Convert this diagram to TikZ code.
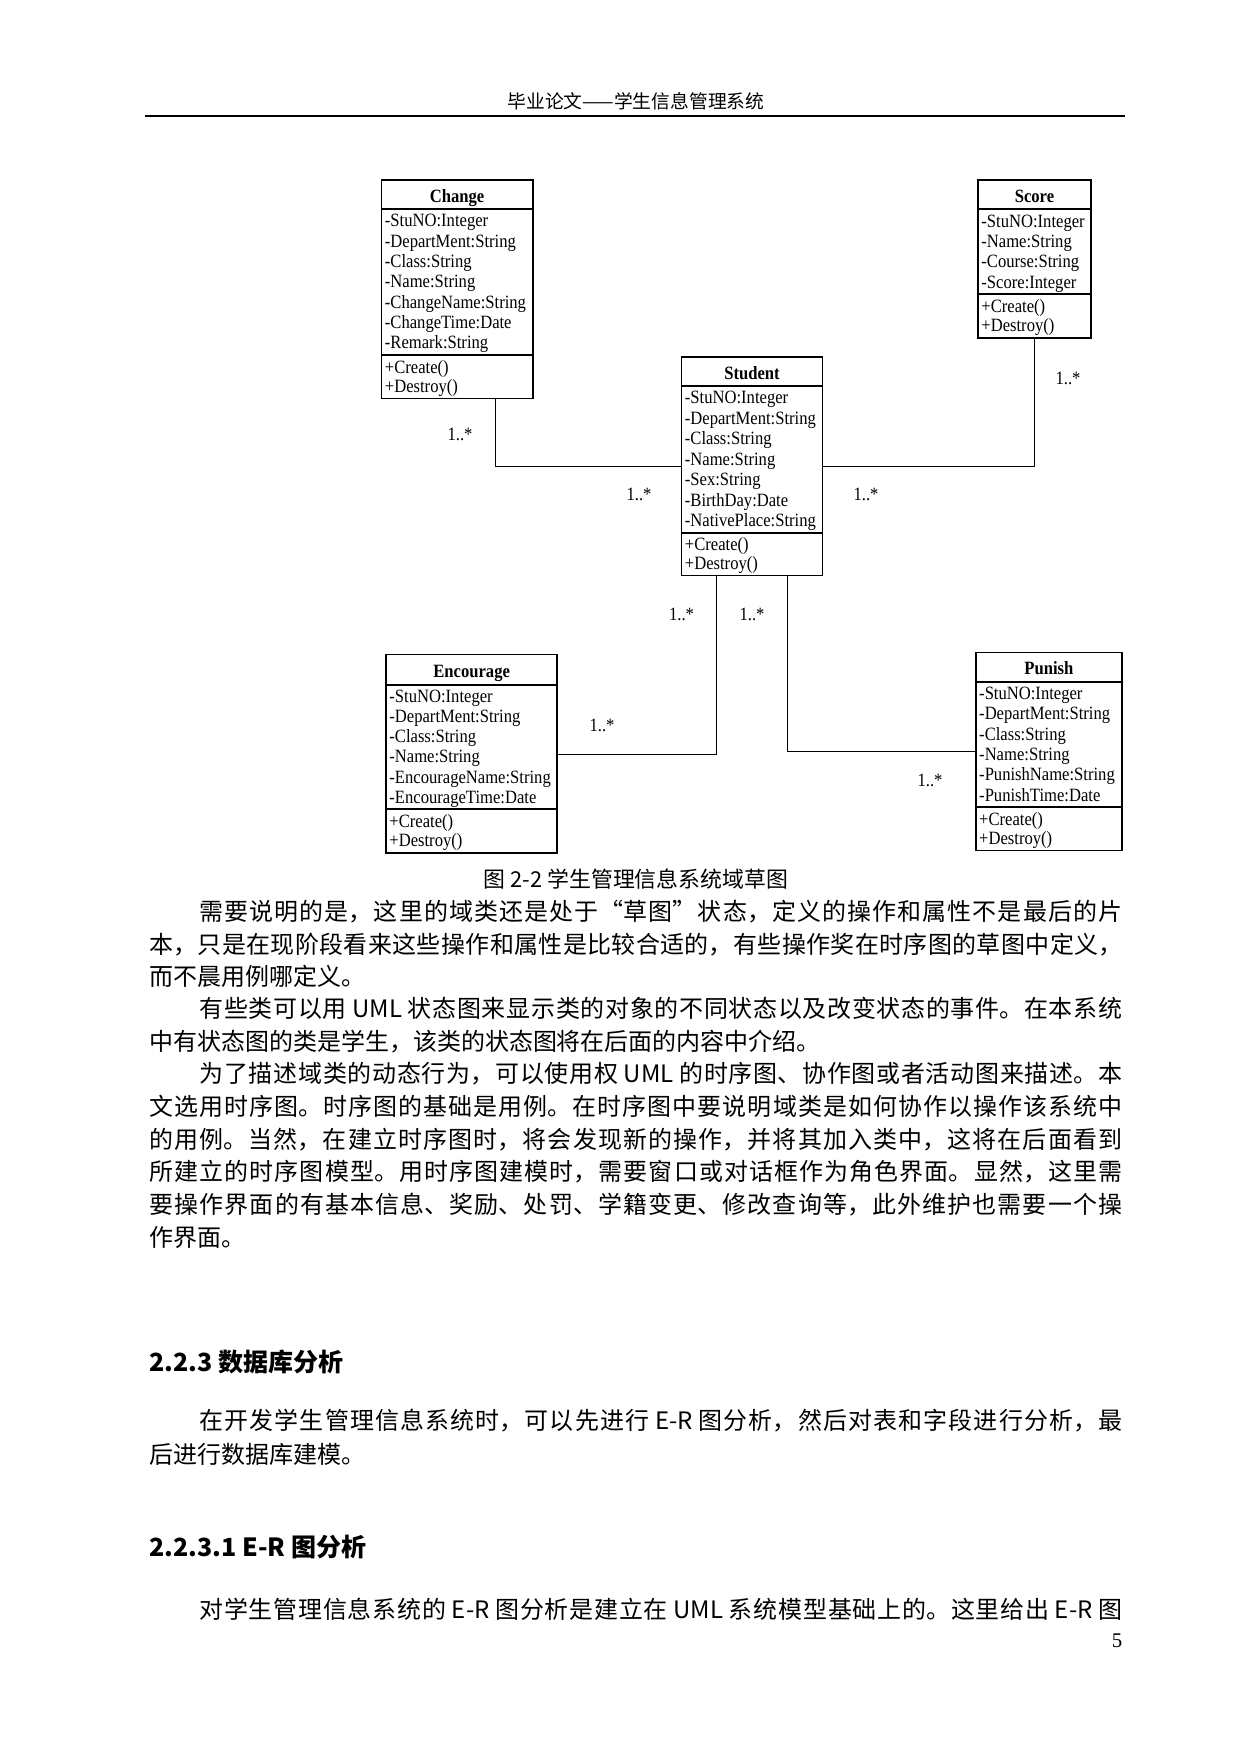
\documentclass[tikz,border=0pt]{standalone}
\usepackage{fontspec}
\usetikzlibrary{fit}
\setmainfont{Liberation Serif}
\newfontfamily\cjk{Noto Sans CJK SC}
\newfontfamily\umlf{Liberation Serif}[FakeStretch=0.885]
\XeTeXlinebreaklocale "zh"
\XeTeXlinebreakskip=0pt plus 3pt
\tolerance=10000
\hbadness=10000
\hfuzz=50pt

\newcommand\jtext[2]{\parbox[b]{#1}{\parfillskip=0pt\relax\parindent=0pt #2}}

\tikzset{
  body/.style={anchor=base west, inner sep=0, font=\cjk\fontsize{11.5}{14}\selectfont},
  headg/.style={anchor=base west, inner sep=0, font=\cjk\bfseries\fontsize{12}{14}\selectfont},
  classbox/.style={draw, line width=0.8pt, inner sep=0},
  divline/.style={line width=0.8pt},
  attr/.style={anchor=base west, inner sep=0, font=\umlf\fontsize{9}{10}\selectfont},
  ttl/.style={anchor=base, inner sep=0, font=\umlf\bfseries\fontsize{9}{10}\selectfont},
  mult/.style={anchor=base, inner sep=0, font=\umlf\fontsize{9}{10}\selectfont},
  conn/.style={line width=0.7pt},
}

% rows: prefix, x, ytop, ybottom, count, list
\newcommand\umlrows[6]{%
  \foreach \t [count=\i] in {#6} {
    \node[attr] (#1\i) at ({#2}, {#3 + ((#4)-(#3))/(#5)*(0.84 + (\i-1)*((#5)-1.12)/((#5)-1))}) {\t};
  }}

% class: name, x1, y1, x2, y2, yh, ys, title
\newcommand\umlclass[8]{%
  \node[classbox, fit={(#2,#3) (#4,#5)}] (#1) {};
  \draw[divline] (#2,#6) -- (#4,#6);
  \draw[divline] (#2,#7) -- (#4,#7);
  \node[ttl] (#1-title) at ({(#2+#4)/2}, {(#3+#6)/2+7.5}) {#8};
}

\begin{document}
\begin{tikzpicture}[x=0.47968pt, y=-0.47968pt]
\useasboundingbox[fill=white] (0,0) rectangle (1241,1754);

% page header
\node[anchor=base, inner sep=0, font=\cjk\fontsize{9}{10}\selectfont] (hdr) at (636,108.5) {毕业论文——学生信息管理系统};
\draw[line width=1.2pt] (145,116) -- (1125,116);

% classes
\umlclass{change}{381.6}{180.2}{532.7}{398.4}{209.3}{354.7}{Change}
\umlrows{change-a}{384.5}{209.3}{354.7}{7}{-StuNO:Integer,-DepartMent:String,-Class:String,-Name:String,-ChangeName:String,-ChangeTime:Date,-Remark:String}
\umlrows{change-m}{384.5}{354.7}{398.4}{2}{+Create(),+Destroy()}

\umlclass{score}{978}{180.2}{1091}{338}{209.3}{294.3}{Score}
\umlrows{score-a}{981}{209.3}{294.3}{4}{-StuNO:Integer,-Name:String,-Course:String,-Score:Integer}
\umlrows{score-m}{981}{294.3}{338}{2}{+Create(),+Destroy()}

\umlclass{student}{681.5}{357}{822.5}{575.5}{386}{532.7}{Student}
\umlrows{student-a}{684.5}{386}{532.7}{7}{-StuNO:Integer,-DepartMent:String,-Class:String,-Name:String,-Sex:String,-BirthDay:Date,-NativePlace:String}
\umlrows{student-m}{684.5}{532.7}{575.5}{2}{+Create(),+Destroy()}

\umlclass{encourage}{386}{654.6}{557.3}{852.7}{684.8}{809}{Encourage}
\umlrows{encourage-a}{389}{684.8}{809}{6}{-StuNO:Integer,-DepartMent:String,-Class:String,-Name:String,-EncourageName:String,-EncourageTime:Date}
\umlrows{encourage-m}{389}{809}{852.7}{2}{+Create(),+Destroy()}

\umlclass{punish}{975.8}{652.6}{1122}{850.4}{682.3}{806.8}{Punish}
\umlrows{punish-a}{978.8}{682.3}{806.8}{6}{-StuNO:Integer,-DepartMent:String,-Class:String,-Name:String,-PunishName:String,-PunishTime:Date}
\umlrows{punish-m}{978.8}{806.8}{850.4}{2}{+Create(),+Destroy()}

% connectors
\draw[conn] ([xshift=18.5pt]change.south) |- (student.west);
\draw[conn] (score.south) |- (student.east);
\draw[conn] ([xshift=-17pt]student.south) |- ([yshift=-0.3pt]encourage.east);
\draw[conn] ([xshift=17pt]student.south) |- ([yshift=0pt]punish.west);

% multiplicities
\node[mult] (m1) at (460,440.5) {1..*};
\node[mult] (m2) at (639,500.5) {1..*};
\node[mult] (m3) at (866,500.5) {1..*};
\node[mult] (m4) at (1068,384.5) {1..*};
\node[mult] (m5) at (681.5,620.5) {1..*};
\node[mult] (m6) at (752,620.5) {1..*};
\node[mult] (m7) at (602,731.5) {1..*};
\node[mult] (m8) at (930,786.5) {1..*};

% caption
\node[anchor=base, inner sep=0, font=\cjk\fontsize{10.5}{12}\selectfont] (cap) at (636,887.5) {图 2-2 学生管理信息系统域草图};

% body text
\node[body] (l1) at (199,920.5) {\jtext{442.7pt}{需要说明的是，这里的域类还是处于“草图”状态，定义的操作和属性不是最后的片}};
\node[body] (l2) at (149,953) {\jtext{466.7pt}{本，只是在现阶段看来这些操作和属性是比较合适的，有些操作奖在时序图的草图中定义，}};
\node[body] (l3) at (149,985.5) {而不晨用例哪定义。};
\node[body] (l4) at (199,1017.5) {\jtext{442.7pt}{有些类可以用 UML 状态图来显示类的对象的不同状态以及改变状态的事件。在本系统}};
\node[body] (l5) at (149,1050.5) {中有状态图的类是学生，该类的状态图将在后面的内容中介绍。};
\node[body] (l6) at (199,1082.5) {\jtext{442.7pt}{为了描述域类的动态行为，可以使用权 UML 的时序图、协作图或者活动图来描述。本}};
\node[body] (l7) at (149,1115.5) {\jtext{466.7pt}{文选用时序图。时序图的基础是用例。在时序图中要说明域类是如何协作以操作该系统中}};
\node[body] (l8) at (149,1148) {\jtext{466.7pt}{的用例。当然，在建立时序图时，将会发现新的操作，并将其加入类中，这将在后面看到}};
\node[body] (l9) at (149,1180.5) {\jtext{466.7pt}{所建立的时序图模型。用时序图建模时，需要窗口或对话框作为角色界面。显然，这里需}};
\node[body] (l10) at (149,1213.5) {\jtext{466.7pt}{要操作界面的有基本信息、奖励、处罚、学籍变更、修改查询等，此外维护也需要一个操}};
\node[body] (l11) at (149,1246) {作界面。};

\node[headg] (h1) at (149,1371.5) {2.2.3 数据库分析};
\node[body] (p1) at (199,1429.5) {\jtext{442.7pt}{在开发学生管理信息系统时，可以先进行 E-R 图分析，然后对表和字段进行分析，最}};
\node[body] (p2) at (149,1463.5) {后进行数据库建模。};
\node[headg] (h2) at (149,1556.5) {2.2.3.1 E-R 图分析};
\node[body] (p3) at (199,1618.5) {\jtext{442.7pt}{对学生管理信息系统的 E-R 图分析是建立在 UML 系统模型基础上的。这里给出 E-R 图}};

\node[anchor=base, inner sep=0, font=\fontsize{10}{12}\selectfont] (pg) at (1117,1647) {5};
\end{tikzpicture}
\end{document}
